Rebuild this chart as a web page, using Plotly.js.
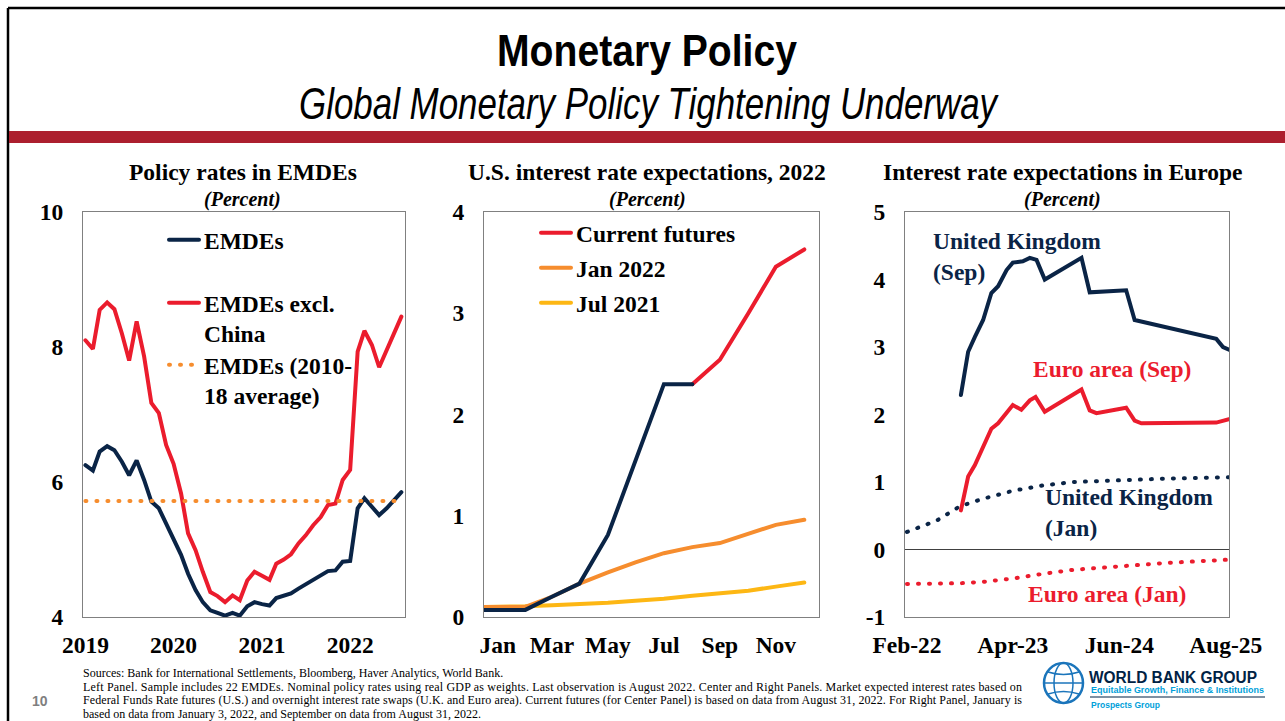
<!DOCTYPE html>
<html><head><meta charset="utf-8">
<script src="https://cdn.plot.ly/plotly-3.0.1.min.js"></script>
<style>
html,body{margin:0;padding:0;background:#fff;overflow:hidden}
#chart{width:1285px;height:721px}
path.js-line{stroke-linecap:round}
</style>
</head><body><div id="chart"></div>
<script>
// ================= DATA =================
// Left panel: policy rates in EMDEs, monthly Jan 2019 - Aug 2022 (percent)
const leftStart = {year: 2019, month: 1, count: 44};
const emdes = [6.25,6.17,6.45,6.53,6.47,6.30,6.10,6.32,6.03,5.71,5.61,5.38,
               5.16,4.92,4.64,4.40,4.22,4.10,4.06,4.02,4.06,4.02,4.16,4.22,
               4.19,4.17,4.28,4.31,4.35,4.42,4.48,4.55,4.61,4.68,4.69,4.82,
               4.83,5.61,5.76,5.63,5.51,5.61,5.72,5.85];
const emdesExChina = [8.10,7.97,8.55,8.66,8.56,8.20,7.80,8.38,7.86,7.17,7.02,6.55,
                      6.27,5.83,5.24,4.99,4.67,4.37,4.31,4.22,4.32,4.25,4.54,4.67,
                      4.61,4.55,4.79,4.85,4.93,5.09,5.21,5.36,5.48,5.66,5.68,6.03,
                      6.18,7.93,8.24,8.03,7.70,7.96,8.20,8.45];
const emdesAvgValue = 5.72;
const emdesAvgSpan = ['2019-01-01', '2022-07-15'];
const leftYearTicks = ['2019-01-01','2020-01-01','2021-01-01','2022-01-01'];
const leftYearLabels = ['2019','2020','2021','2022'];

// Center panel: U.S. interest rate expectations, 2022 (percent)
const usDates = ['2022-01-01','2022-01-16','2022-02-15','2022-03-16','2022-04-15','2022-05-16',
                 '2022-06-15','2022-07-16','2022-08-16','2022-09-15','2022-10-16','2022-11-15','2022-12-16'];
const usRealized = [0.07,0.07,0.07,0.20,0.33,0.81,1.55,2.30,2.30,null,null,null,null];
const usCurrentFutures = [null,null,null,null,null,null,null,null,2.30,2.54,3.00,3.46,3.63];
const usJan2022 = [0.10,0.10,0.10,0.20,0.33,0.44,0.54,0.63,0.69,0.73,0.82,0.91,0.96];
const usJul2021 = [0.10,0.10,0.105,0.115,0.125,0.14,0.16,0.18,0.21,0.23,0.26,0.30,0.34];
const usMonthTicks = ['2022-01-16','2022-03-16','2022-05-16','2022-07-16','2022-09-15','2022-11-15'];
const usMonthLabels = ['Jan','Mar','May','Jul','Sep','Nov'];

// Right panel: interest rate expectations in Europe (percent)
const sepDates = ['2022-09-05','2022-10-04','2022-10-31','2022-12-03','2023-01-05','2023-02-01',
                  '2023-03-07','2023-04-01','2023-05-11','2023-06-08','2023-07-05','2023-08-07',
                  '2024-01-01','2024-02-03','2024-06-28','2024-08-01','2025-06-24','2025-07-21','2025-08-14'];
const ukSep = [2.29,2.93,3.15,3.40,3.80,3.90,4.14,4.25,4.27,4.32,4.29,4.00,4.32,3.81,3.84,3.40,3.12,3.00,2.96];
const euroSepDates = ['2022-09-05','2022-10-04','2022-10-31','2022-12-03','2023-01-05','2023-02-01',
                      '2023-03-07','2023-04-01','2023-05-05','2023-06-08','2023-07-01','2023-08-07',
                      '2024-01-01','2024-02-03','2024-03-01','2024-06-28','2024-08-01','2024-08-28',
                      '2025-06-24','2025-08-14'];
const euroSep = [0.58,1.08,1.25,1.52,1.79,1.87,2.02,2.14,2.07,2.21,2.26,2.04,2.37,2.06,2.02,2.10,1.91,1.87,1.88,1.93];
const janDates = ['2022-02-01','2022-06-01','2022-09-01','2022-12-01','2023-04-01','2023-08-01',
                  '2023-12-01','2024-06-01','2024-12-01','2025-08-14'];
const ukJan = [0.26,0.43,0.64,0.75,0.87,0.95,1.00,1.03,1.05,1.07];
const euroJan = [-0.51,-0.51,-0.50,-0.48,-0.43,-0.36,-0.30,-0.25,-0.20,-0.15];
const euTicks = ['2022-02-01','2023-04-01','2024-06-01','2025-08-01'];
const euTickLabels = ['Feb-22','Apr-23','Jun-24','Aug-25'];
const euYTicks = [-1,0,1,2,3,4,5];
const euYLabels = ['-1','0','1','2','3','4','5'];

// ================= STYLE =================
const W = 1285, H = 721;
const px = x => x / W, py = y => 1 - y / H;
const SERIF = 'Liberation Serif, Times New Roman, serif';
const SANS = 'Liberation Sans, Arial, sans-serif';
const NAVY = '#0a2446', RED = '#eb1c2d', ORANGE = '#f68d2e', YELLOW = '#fdb714';
const FS = 23.5;

const leftMonths = [];
for (let i = 0; i < leftStart.count; i++) {
  const y = leftStart.year + Math.floor((leftStart.month - 1 + i) / 12);
  const m = (leftStart.month - 1 + i) % 12 + 1;
  leftMonths.push(y + '-' + String(m).padStart(2, '0') + '-01');
}

const traces = [
  // left
  {x: leftMonths, y: emdes, xaxis: 'x', yaxis: 'y', mode: 'lines', name: 'EMDEs',
   line: {color: NAVY, width: 4}, legend: 'legend'},
  {x: leftMonths, y: emdesExChina, xaxis: 'x', yaxis: 'y', mode: 'lines', name: 'EMDEs excl.<br>China',
   line: {color: RED, width: 4}, legend: 'legend2'},
  {x: emdesAvgSpan, y: [emdesAvgValue, emdesAvgValue], xaxis: 'x', yaxis: 'y', mode: 'lines',
   name: 'EMDEs (2010-<br>18 average)', line: {color: ORANGE, width: 4, dash: '1px,10px'}, legend: 'legend3'},
  // center
  {x: usDates, y: usJul2021, xaxis: 'x2', yaxis: 'y2', mode: 'lines', name: 'Jul 2021',
   line: {color: YELLOW, width: 4}, legend: 'legend6'},
  {x: usDates, y: usJan2022, xaxis: 'x2', yaxis: 'y2', mode: 'lines', name: 'Jan 2022',
   line: {color: ORANGE, width: 4}, legend: 'legend5'},
  {x: usDates, y: usCurrentFutures, xaxis: 'x2', yaxis: 'y2', mode: 'lines', name: 'Current futures',
   line: {color: RED, width: 4}, legend: 'legend4'},
  {x: usDates, y: usRealized, xaxis: 'x2', yaxis: 'y2', mode: 'lines', name: 'Realized',
   line: {color: NAVY, width: 4}, showlegend: false},
  // right
  {x: janDates, y: euroJan, xaxis: 'x3', yaxis: 'y3', mode: 'lines', name: 'Euro area (Jan)',
   line: {color: RED, width: 4, dash: '1px,10px'}, showlegend: false},
  {x: janDates, y: ukJan, xaxis: 'x3', yaxis: 'y3', mode: 'lines', name: 'United Kingdom (Jan)',
   line: {color: NAVY, width: 4, dash: '1px,10px'}, showlegend: false},
  {x: euroSepDates, y: euroSep, xaxis: 'x3', yaxis: 'y3', mode: 'lines', name: 'Euro area (Sep)',
   line: {color: RED, width: 4}, showlegend: false},
  {x: sepDates, y: ukSep, xaxis: 'x3', yaxis: 'y3', mode: 'lines', name: 'United Kingdom (Sep)',
   line: {color: NAVY, width: 4}, showlegend: false}
];

const tickFont = {family: SERIF, size: FS, color: '#000', weight: 'bold'};
const axBase = {showgrid: false, zeroline: false, showline: true, mirror: true, linecolor: '#808080',
                linewidth: 1, ticks: '', tickfont: tickFont, fixedrange: true};
const yDom = [py(617), py(212)];

const legBase = {bgcolor: 'rgba(0,0,0,0)', borderwidth: 0, font: {family: SERIF, size: FS, color: '#000', weight: 'bold'},
                 xanchor: 'left', yanchor: 'top', valign: 'top', itemwidth: 30, tracegroupgap: 0};
function leg(xl, ytop) { return Object.assign({}, legBase, {x: px(xl), y: py(ytop)}); }

function ann(text, x, y, opts) {
  return Object.assign({text: text, x: px(x), y: py(y), xref: 'paper', yref: 'paper', showarrow: false,
    xanchor: 'center', yanchor: 'middle', font: {family: SERIF, size: FS, color: '#000', weight: 'bold'}}, opts || {});
}

const footFont = {family: SERIF, size: 12, color: '#000'};
const footLines = [
  'Sources: Bank for International Settlements, Bloomberg, Haver Analytics, World Bank.',
  'Left Panel. Sample includes 22 EMDEs. Nominal policy rates using real GDP as weights. Last observation is August 2022. Center and Right Panels. Market expected interest rates based on',
  'Federal Funds Rate futures (U.S.) and overnight interest rate swaps (U.K. and Euro area). Current futures (for Center Panel) is based on data from August 31, 2022. For Right Panel, January is',
  'based on data from January 3, 2022, and September on data from August 31, 2022.'
];
const footY = [673, 687, 700, 714];
const SUBTITLE = 'Global Monetary Policy Tightening Underway';

const annotations = [
  ann(SUBTITLE, 649, 104, {font: {family: SANS, size: 44, color: '#000', style: 'italic'}}),
  // panel titles
  ann('Policy rates in EMDEs', 243, 172),
  ann('<i>(Percent)</i>', 242, 199, {font: {family: SERIF, size: 20, color: '#000', weight: 'bold'}}),
  ann('U.S. interest rate expectations, 2022', 647, 172),
  ann('<i>(Percent)</i>', 647, 199, {font: {family: SERIF, size: 20, color: '#000', weight: 'bold'}}),
  ann('Interest rate expectations in Europe', 1062, 172),
  ann('<i>(Percent)</i>', 1062, 199, {font: {family: SERIF, size: 20, color: '#000', weight: 'bold'}}),
  // right panel labels
  ann('United Kingdom<br>(Sep)', 931, 256, {xanchor: 'left', align: 'left', font: {family: SERIF, size: FS, color: NAVY, weight: 'bold'}}),
  ann('Euro area (Sep)', 1031, 369, {xanchor: 'left', align: 'left', font: {family: SERIF, size: FS, color: RED, weight: 'bold'}}),
  ann('United Kingdom<br>(Jan)', 1043, 512, {xanchor: 'left', align: 'left', font: {family: SERIF, size: FS, color: NAVY, weight: 'bold'}}),
  ann('Euro area (Jan)', 1026, 594, {xanchor: 'left', align: 'left', font: {family: SERIF, size: FS, color: RED, weight: 'bold'}}),
  // page number
  ann('10', 40, 701, {font: {family: SANS, size: 14, color: '#7f7f7f', weight: 'bold'}}),
  // logo text
  ann('WORLD BANK GROUP', 1087, 677, {xanchor: 'left', align: 'left', font: {family: SANS, size: 16, color: '#002244', weight: 'bold'}}),
  ann('Equitable Growth, Finance &amp; Institutions', 1089, 689, {xanchor: 'left', align: 'left', font: {family: SANS, size: 9.5, color: '#009fda', weight: 'bold'}}),
  ann('Prospects Group', 1089, 705, {xanchor: 'left', align: 'left', font: {family: SANS, size: 8.5, color: '#009fda', weight: 'bold'}})
];
footLines.forEach((t, i) => annotations.push(ann(t, 81, footY[i], {xanchor: 'left', align: 'left', font: footFont})));

const shapes = [
  {type: 'line', xref: 'paper', yref: 'paper', x0: px(8), x1: px(1285), y0: py(8), y1: py(8), line: {color: '#000', width: 2.5}},
  {type: 'line', xref: 'paper', yref: 'paper', x0: px(8), x1: px(8), y0: py(8), y1: py(721), line: {color: '#000', width: 2.5}},
  {type: 'rect', xref: 'paper', yref: 'paper', x0: px(9), x1: px(1285), y0: py(131), y1: py(143), fillcolor: '#ac1f2e', line: {width: 0}},
  // logo globe
  {type: 'circle', xref: 'paper', yref: 'paper', x0: px(1044), x1: px(1083), y0: py(663), y1: py(703), line: {color: '#1b75bb', width: 2.5}, fillcolor: 'rgba(255,255,255,0)'},
  {type: 'circle', xref: 'paper', yref: 'paper', x0: px(1054), x1: px(1073), y0: py(663), y1: py(703), line: {color: '#1b75bb', width: 1.5}},
  {type: 'line', xref: 'paper', yref: 'paper', x0: px(1044), x1: px(1083), y0: py(683), y1: py(683), line: {color: '#1b75bb', width: 1.5}},
  {type: 'path', xref: 'paper', yref: 'paper', path: 'M' + px(1048) + ',' + py(672) + ' Q' + px(1063.5) + ',' + py(677) + ' ' + px(1079) + ',' + py(672), line: {color: '#1b75bb', width: 1.5}},
  {type: 'path', xref: 'paper', yref: 'paper', path: 'M' + px(1048) + ',' + py(694) + ' Q' + px(1063.5) + ',' + py(689) + ' ' + px(1079) + ',' + py(694), line: {color: '#1b75bb', width: 1.5}},
  {type: 'line', xref: 'paper', yref: 'paper', x0: px(1090), x1: px(1265), y0: py(697), y1: py(697), line: {color: '#002244', width: 1.2}}
];

const layout = {
  width: W, height: H, margin: {l: 0, r: 0, t: 0, b: 0},
  paper_bgcolor: '#fff', plot_bgcolor: '#fff',
  title: {text: 'Monetary Policy', x: px(647), xref: 'paper', xanchor: 'center', y: py(50), yref: 'paper', yanchor: 'middle',
          font: {family: SANS, size: 45, color: '#000', weight: 'bold'}},
  xaxis: Object.assign({}, axBase, {domain: [px(83), px(405)], anchor: 'y', type: 'date',
          range: ['2018-12-22', '2022-08-16'], tickvals: leftYearTicks, ticktext: leftYearLabels, ticklabelstandoff: 7}),
  yaxis: Object.assign({}, axBase, {domain: yDom, anchor: 'x', range: [4, 10], tickvals: [4, 6, 8, 10], ticklabelstandoff: 14}),
  xaxis2: Object.assign({}, axBase, {domain: [px(484), px(819)], anchor: 'y2', type: 'date',
          range: ['2022-01-01', '2023-01-01'], tickvals: usMonthTicks, ticktext: usMonthLabels, ticklabelstandoff: 7}),
  yaxis2: Object.assign({}, axBase, {domain: yDom, anchor: 'x2', range: [0, 4], tickvals: [0, 1, 2, 3, 4], ticklabelstandoff: 14}),
  xaxis3: Object.assign({}, axBase, {domain: [px(905), px(1229)], anchor: 'y3', type: 'date',
          range: ['2022-01-24', '2025-08-14'], tickvals: euTicks, ticktext: euTickLabels, ticklabelstandoff: 7}),
  yaxis3: Object.assign({}, axBase, {domain: yDom, anchor: 'x3', range: [-1, 5], tickvals: euYTicks, ticktext: euYLabels,
          ticklabelstandoff: 14, zeroline: true, zerolinecolor: '#404040', zerolinewidth: 1}),
  legend: leg(164, 218),
  legend2: leg(164, 281),
  legend3: leg(164, 343),
  legend4: leg(536, 211),
  legend5: leg(536, 246),
  legend6: leg(536, 281),
  annotations: annotations,
  shapes: shapes,
  showlegend: true
};

// target rendered widths for condensed / justified texts (px)
const textWidths = {
  'Monetary Policy': 300,
  [SUBTITLE]: 698,
  'WORLD BANK GROUP': 168,
  'Equitable Growth, Finance & Institutions': 173,
  [footLines[1]]: 939,
  [footLines[2]]: 939
};

Plotly.newPlot('chart', traces, layout, {staticPlot: true, displayModeBar: false}).then(gd => {
  gd.querySelectorAll('text').forEach(t => {
    const w = textWidths[t.textContent];
    if (w) {
      const adj = (t.textContent === footLines[1] || t.textContent === footLines[2]) ? 'spacing' : 'spacingAndGlyphs';
      t.setAttribute('textLength', w);
      t.setAttribute('lengthAdjust', adj);
    }
  });
});
</script>
</body></html>
